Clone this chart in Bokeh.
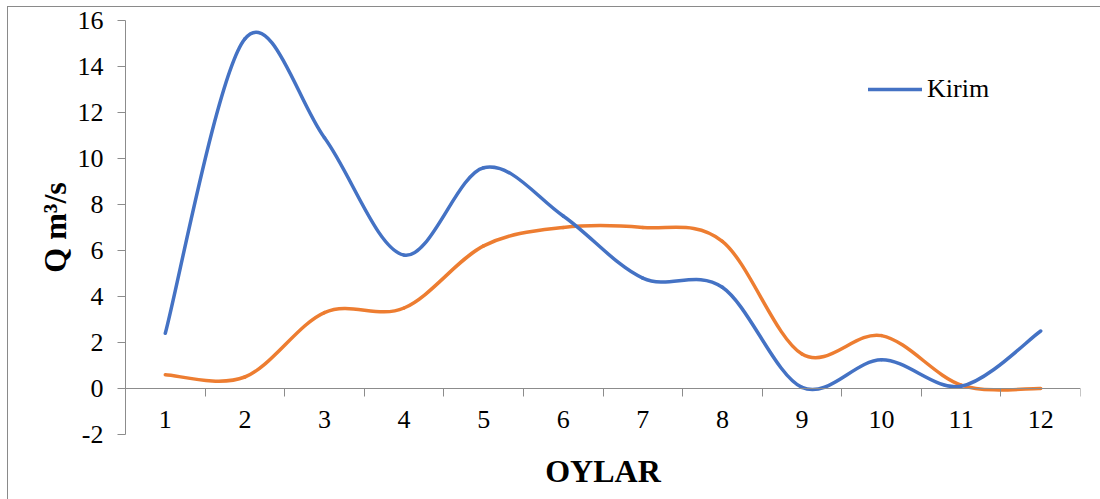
import numpy as np
from bokeh.plotting import figure
from bokeh.models import LinearAxis, FixedTicker, Range1d, Legend, LegendItem
from bokeh.embed import file_html
from bokeh.resources import INLINE

# ---- data ----
months = [1, 2, 3, 4, 5, 6, 7, 8, 9, 10, 11, 12]
month_labels = ["1", "2", "3", "4", "5", "6", "7", "8", "9", "10", "11", "12"]
kirim = [2.4, 15.2, 10.9, 5.8, 9.6, 7.5, 4.8, 4.4, 0.05, 1.25, 0.1, 2.5]
chiqim = [0.6, 0.5, 3.3, 3.5, 6.2, 7.0, 7.0, 6.4, 1.5, 2.3, 0.15, 0.0]
y_ticks = [-2, 0, 2, 4, 6, 8, 10, 12, 14, 16]
y_labels = ["-2", "0", "2", "4", "6", "8", "10", "12", "14", "16"]
x_bounds = [0.5 + i for i in range(13)]

BLUE = "#4472C4"
ORANGE = "#ED7D31"
AXIS = "#8C8C8C"
FONT = "Liberation Serif"


def smooth_segments(xs, ys):
    """Excel-like smoothed line: Catmull-Rom -> cubic Bezier control points."""
    xs = np.asarray(xs, float)
    ys = np.asarray(ys, float)
    n = len(xs)
    d = dict(x0=[], y0=[], x1=[], y1=[], cx0=[], cy0=[], cx1=[], cy1=[])
    for i in range(n - 1):
        ip = max(i - 1, 0)
        inn = min(i + 2, n - 1)
        d["x0"].append(xs[i]); d["y0"].append(ys[i])
        d["x1"].append(xs[i + 1]); d["y1"].append(ys[i + 1])
        d["cx0"].append(xs[i] + (xs[i + 1] - xs[ip]) / 6)
        d["cy0"].append(ys[i] + (ys[i + 1] - ys[ip]) / 6)
        d["cx1"].append(xs[i + 1] - (xs[inn] - xs[i]) / 6)
        d["cy1"].append(ys[i + 1] - (ys[inn] - ys[i]) / 6)
    return d


p = figure(width=1092, height=492,
           x_range=Range1d(0.5, 12.5), y_range=Range1d(-2, 16),
           x_axis_type=None, y_axis_type=None,
           output_backend="svg", toolbar_location=None,
           min_border_left=117, min_border_right=20,
           min_border_top=13, min_border_bottom=65)
p.outline_line_color = None
p.styles = {"margin-left": "8px", "margin-top": "7px",
            "outline": "1.5px solid #8A8A8A"}

# y axis
yax = LinearAxis(ticker=FixedTicker(ticks=y_ticks),
                 major_label_overrides={t: l for t, l in zip(y_ticks, y_labels)},
                 axis_label="Q m³/s",
                 axis_label_text_font=FONT, axis_label_text_font_style="bold",
                 axis_label_text_font_size="32px", axis_label_text_color="black",
                 axis_label_standoff=2,
                 major_label_text_font=FONT, major_label_text_font_size="26px",
                 major_label_text_color="black", major_label_standoff=14,
                 major_tick_in=0, major_tick_out=8,
                 minor_tick_line_color=None,
                 axis_line_color=AXIS, major_tick_line_color=AXIS)
p.add_layout(yax, "left")

# x axis at y=0: tick marks between categories (minor), labels at categories
xax = LinearAxis(ticker=FixedTicker(ticks=months, minor_ticks=x_bounds),
                 fixed_location=0,
                 major_label_overrides={m: l for m, l in zip(months, month_labels)},
                 major_label_text_font=FONT, major_label_text_font_size="26px",
                 major_label_text_color="black", major_label_standoff=14,
                 major_tick_in=0, major_tick_out=0, major_tick_line_color=None,
                 minor_tick_in=0, minor_tick_out=8, minor_tick_line_color=AXIS,
                 axis_line_color=AXIS)
p.add_layout(xax, "below")

# x axis title
xtitle = LinearAxis(ticker=FixedTicker(ticks=[]), axis_label="OYLAR",
                    axis_label_text_font=FONT, axis_label_text_font_style="bold",
                    axis_label_text_font_size="32px", axis_label_text_color="black",
                    axis_label_standoff=18, major_label_standoff=0,
                    major_tick_in=0, major_tick_out=0,
                    minor_tick_line_color=None,
                    axis_line_color=None, major_tick_line_color=None)
p.add_layout(xtitle, "below")

# series
r_orange = p.bezier(line_color=ORANGE, line_width=3.5, line_cap="round",
                    **smooth_segments(months, chiqim))
r_blue = p.bezier(line_color=BLUE, line_width=3.5, line_cap="round",
                  **smooth_segments(months, kirim))

legend = Legend(items=[LegendItem(label="Kirim", renderers=[r_blue])],
                location=(743, 330), glyph_width=54, glyph_height=30,
                label_height=30, label_standoff=5, padding=0, margin=0,
                border_line_color=None, background_fill_alpha=0,
                label_text_font=FONT, label_text_font_size="26px",
                label_text_color="black")
p.add_layout(legend)

open("out.html", "w").write(file_html(p, INLINE))
